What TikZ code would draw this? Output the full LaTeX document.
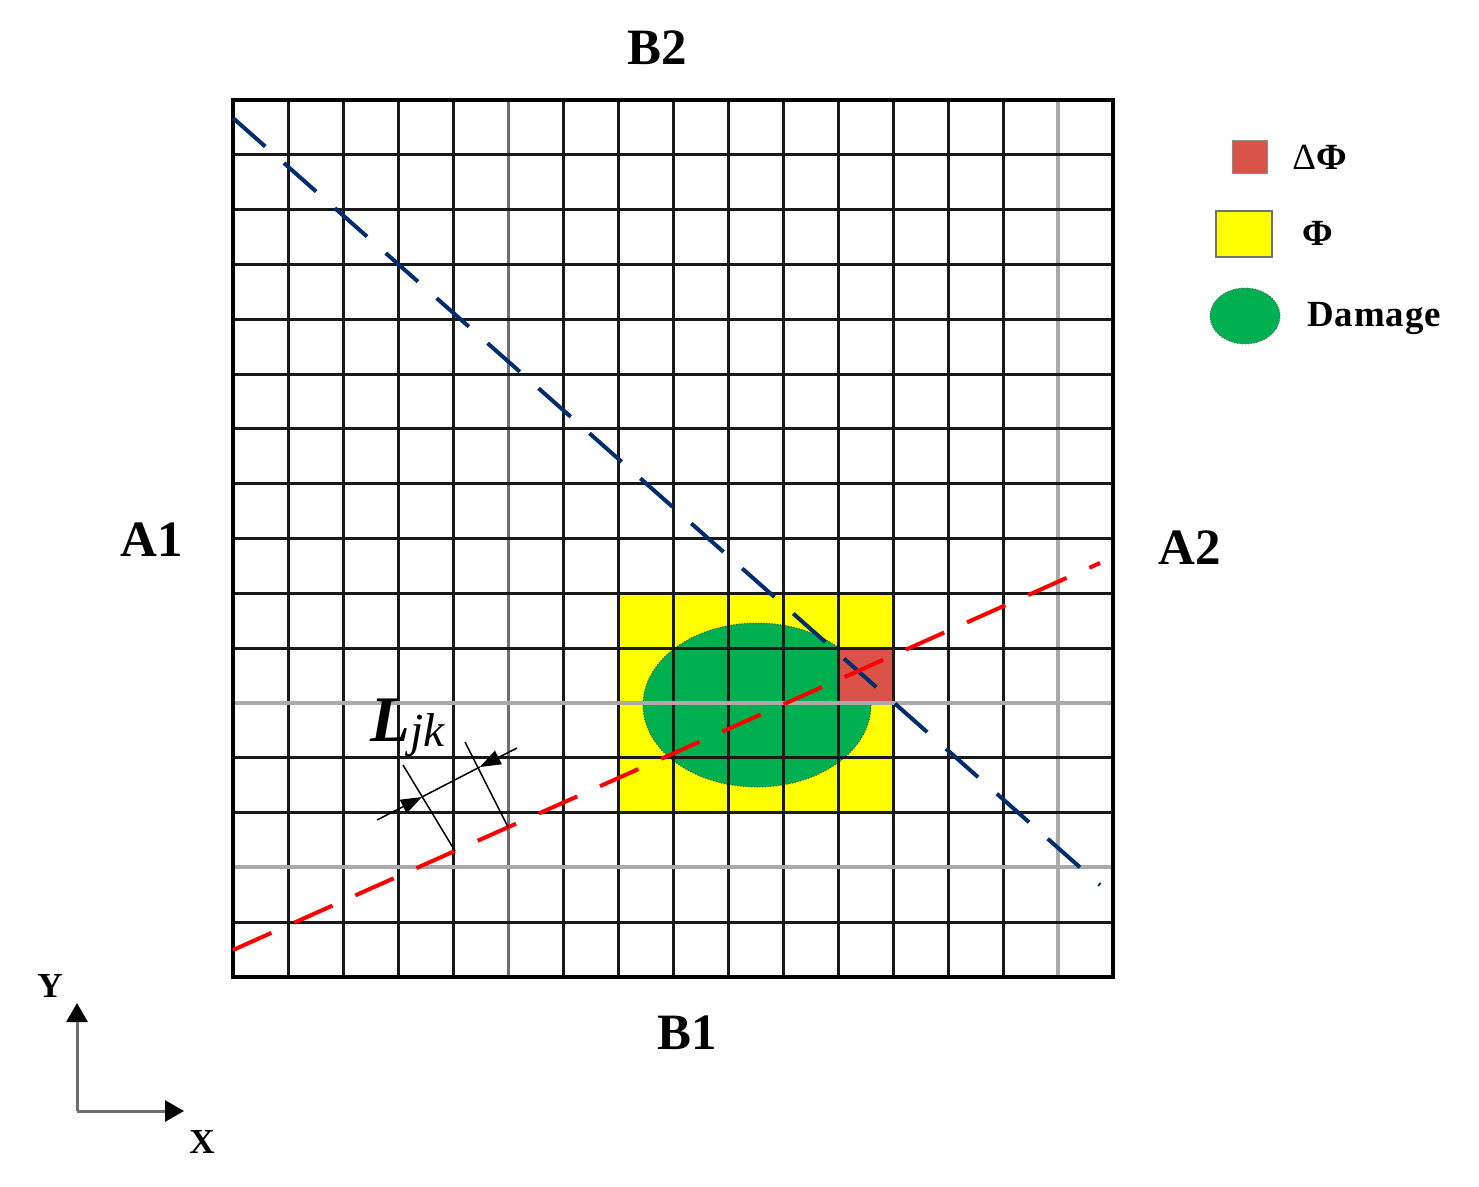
\documentclass[tikz,border=0pt]{standalone}
\usepackage{fontspec}
\setmainfont{Liberation Serif}
\usetikzlibrary{arrows.meta,shapes.geometric}
\definecolor{navyb}{RGB}{0,45,110}
\definecolor{redsq}{RGB}{217,83,72}
\definecolor{dmggreen}{RGB}{0,176,80}
\definecolor{yel}{RGB}{255,255,0}
\definecolor{lgray}{RGB}{170,170,170}
\definecolor{mgray}{RGB}{110,110,110}
\begin{document}
\begin{tikzpicture}[x=0.02cm,y=-0.02cm,
  gridline/.style={line width=0.06cm,black!90},
  gridgray/.style={line width=0.07cm,lgray},
  gridmid/.style={line width=0.06cm,mgray},
  bluedash/.style={line width=0.08cm,navyb,dash pattern=on 0.86cm off 0.5cm},
  reddash/.style={line width=0.08cm,red,dash pattern=on 0.84cm off 0.5cm},
  dimline/.style={line width=0.03cm,black},
  dimtip/.style={dimline,-{Triangle[length=0.42cm,width=0.3cm]}},
  axisline/.style={line width=0.06cm,mgray,-{Triangle[length=0.38cm,width=0.42cm,color=black]}},
  biglabel/.style={font=\fontsize{29}{32}\selectfont\bfseries,inner sep=0pt},
  leglabel/.style={font=\fontsize{21}{24}\selectfont\bfseries,inner sep=0pt},
  axlabel/.style={font=\fontsize{20}{22}\selectfont\bfseries,inner sep=0pt}]
\useasboundingbox[fill=white] (0,0) rectangle (1479,1186);
% coloured cells
\fill[yel] (618,593) rectangle (893,812);
\fill[dmggreen] (757,705) ellipse [x radius=114, y radius=82];
\draw[line width=0.02cm,black!70,densely dotted] (757,705) ellipse [x radius=114, y radius=82];
\fill[redsq] (838,648) rectangle (893,703);
% grid
\foreach \i in {0,1,2,3,4,6,7,8,9,10,11,12,13,14,16} {
  \pgfmathsetmacro\xx{233+55*\i}
  \draw[gridline] (\xx,100) -- (\xx,977);
}
\draw[gridmid] (508,100) -- (508,977);
\draw[gridgray] (1058,100) -- (1058,977);
\foreach \j in {0,1,2,3,4,5,6,7,8,9,10,12,13,15,16} {
  \pgfmathsetmacro\yy{100+54.8125*\j}
  \draw[gridline] (233,\yy) -- (1113,\yy);
}
\draw[gridgray] (233,703) -- (1113,703);
\draw[gridgray] (233,867) -- (1113,867);
\draw[line width=0.07cm,black] (233,100) rectangle (1113,977);
% dashed paths
\coordinate (bs) at (233,118);
\coordinate (be) at (1100,885);
\coordinate (rs) at (233,950);
\coordinate (re) at (1100,563);
\draw[bluedash] (bs) -- (be);
\draw[reddash] (rs) -- (re);
% L_jk dimension
\coordinate (e1a) at (403,765);
\coordinate (e1b) at (455,851);
\coordinate (e2a) at (465,742);
\coordinate (e2b) at (508,827);
\coordinate (d1) at (377,820);
\coordinate (d2) at (517,748);
\coordinate (p1) at (421.9,797);
\coordinate (p2) at (479.8,767);
\draw[dimline] (e1a) -- (e1b);
\draw[dimline] (e2a) -- (e2b);
\draw[dimline] (p1) -- (p2);
\draw[dimtip] (d1) -- (p1);
\draw[dimtip] (d2) -- (p2);
\node[inner sep=0pt,anchor=base west] (ljk) at (370,741)
  {{\fontsize{37}{40}\selectfont\bfseries\itshape L}\raisebox{-3pt}{\fontsize{27}{29}\selectfont\itshape jk}};
% side labels
\node[biglabel] (b2) at (657,48) {B2};
\node[biglabel] (b1) at (687,1033) {B1};
\node[biglabel] (a1) at (152,540) {A1};
\node[biglabel] (a2) at (1190,548) {A2};
% legend
\node[draw=black!45,line width=0.02cm,fill=redsq,minimum width=0.7cm,minimum height=0.68cm,inner sep=0pt] (legred) at (1249.5,157) {};
\node[draw=black!55,line width=0.03cm,fill=yel,minimum width=1.12cm,minimum height=0.92cm,inner sep=0pt] (legyel) at (1244,234) {};
\node[draw=black!60,densely dotted,line width=0.02cm,fill=dmggreen,ellipse,minimum width=1.4cm,minimum height=1.12cm,inner sep=0pt] (leggreen) at (1245,316) {};
\node[leglabel,anchor=west] (legdphi) at (1292,157) {{\mdseries Δ}Φ};
\node[leglabel,anchor=west] (legphi) at (1302,233) {Φ};
\node[leglabel,anchor=west] (legdmg) at (1307,318) {D\kern0.5pt a\kern0.5pt m\kern0.5pt a\kern0.5pt g\kern0.5pt e};
% axes
\coordinate (org) at (77,1111);
\coordinate (ytip) at (77,1003);
\coordinate (xtip) at (184,1111);
\draw[axisline] (org) -- (ytip);
\draw[axisline] (org) -- (xtip);
\node[axlabel] (ylab) at (50,986) {Y};
\node[axlabel] (xlab) at (202,1142) {X};
\end{tikzpicture}
\end{document}
